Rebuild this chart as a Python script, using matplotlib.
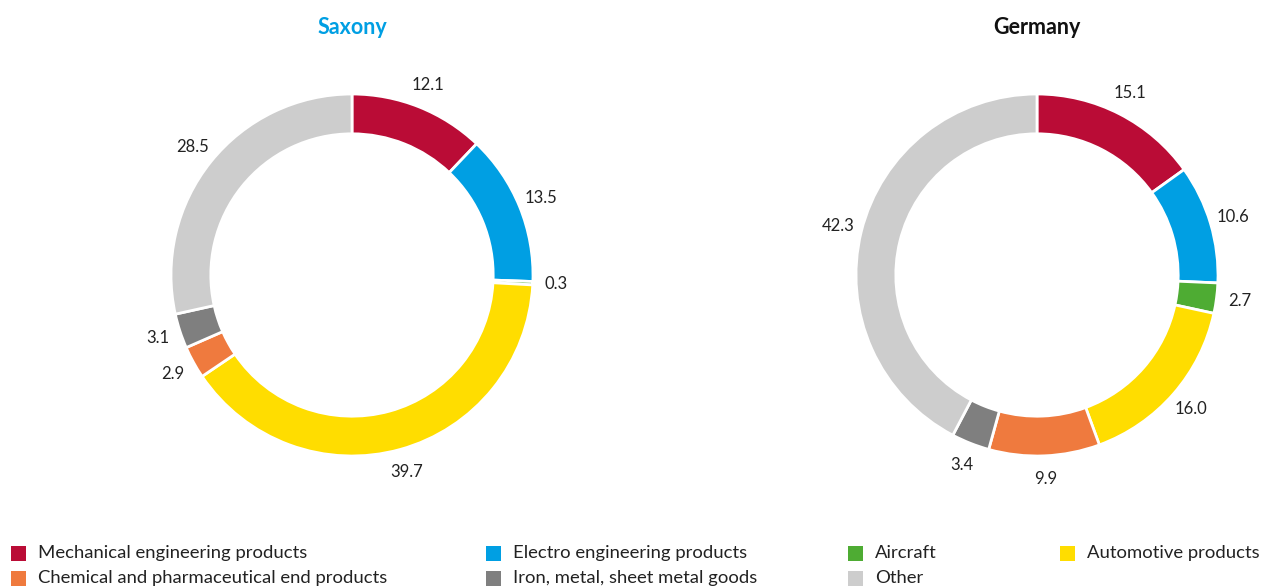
import matplotlib.pyplot as plt
from matplotlib.patches import Rectangle

plt.rcParams['font.family'] = ['Lato', 'DejaVu Sans']

categories = ["Mechanical engineering products", "Electro engineering products",
              "Aircraft", "Automotive products",
              "Chemical and pharmaceutical end products", "Iron, metal, sheet metal goods",
              "Other"]
colors = ['#BA0C36', '#009FE3', '#4EAC33', '#FFDD00', '#EF7A3E', '#7F7F7F', '#CDCDCD']

saxony = [12.1, 13.5, 0.3, 39.7, 2.9, 3.1, 28.5]
germany = [15.1, 10.6, 2.7, 16.0, 9.9, 3.4, 42.3]

W, H = 1264, 588
fig = plt.figure(figsize=(W / 100, H / 100), dpi=100, facecolor='white')

R_PX = 181  # outer radius in pixels
LIM = 1.35


def donut(cx, cy, values, title, title_color):
    side = 2 * LIM * R_PX
    ax = fig.add_axes([(cx - side / 2) / W, 1 - (cy + side / 2) / H, side / W, side / H])
    ax.pie(values, colors=colors, startangle=90, counterclock=False, radius=1,
           labels=[f"{v:.1f}" for v in values], labeldistance=1.13,
           textprops=dict(fontsize=12, color='#222222', ha='center', va='center'),
           wedgeprops=dict(width=0.22, edgecolor='white', linewidth=2))
    ax.set_xlim(-LIM, LIM)
    ax.set_ylim(-LIM, LIM)
    ax.set_aspect('equal')
    ax.axis('off')
    fig.text(cx / W, 1 - 27 / H, title, ha='center', va='center', fontsize=15.5,
             fontweight='bold', color=title_color)


donut(352, 275, saxony, "Saxony", '#009FE3')
donut(1037, 275, germany, "Germany", '#111111')

# legend, two rows of four columns
col_x = [11, 486, 848, 1060]
row_y = [553, 578]
for i, (name, c) in enumerate(zip(categories, colors)):
    col = i % 4
    row = i // 4
    x, y = col_x[col], row_y[row]
    fig.patches.append(Rectangle((x / W, 1 - (y + 8) / H), 15 / W, 15 / H,
                                 transform=fig.transFigure, facecolor=c, edgecolor='none'))
    fig.text((x + 27) / W, 1 - y / H, name, ha='left', va='center', fontsize=13.3,
             color='#222222')

fig.savefig('out.png', dpi=100)
